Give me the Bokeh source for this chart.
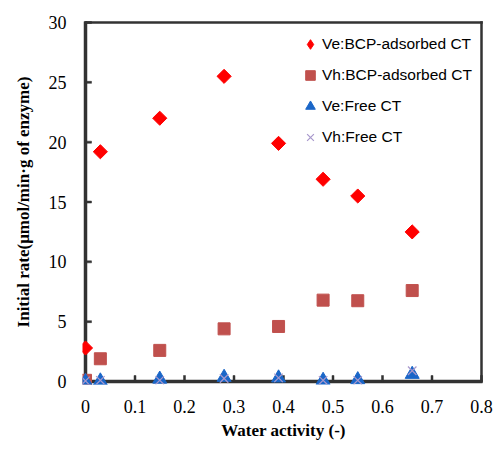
import math
from bokeh.plotting import figure
from bokeh.models import Range1d, FixedTicker, NumeralTickFormatter, Legend, LegendItem
from bokeh.embed import file_html
from bokeh.resources import INLINE

# data
aw = [0.0, 0.03, 0.15, 0.28, 0.39, 0.48, 0.55, 0.66]
ve_bcp = [2.8, 19.2, 22.0, 25.5, 19.9, 16.9, 15.5, 12.5]
vh_bcp = [0.1, 1.9, 2.6, 4.4, 4.6, 6.8, 6.75, 7.6]
ve_free = [0.0, 0.05, 0.2, 0.35, 0.3, 0.1, 0.15, 0.6]
vh_free = [0.05, 0.1, 0.1, 0.25, 0.3, 0.1, 0.1, 0.9]
x_ticks = [0, 0.1, 0.2, 0.3, 0.4, 0.5, 0.6, 0.7, 0.8]
y_ticks = [0, 5, 10, 15, 20, 25, 30]
labels = ["Ve:BCP-adsorbed CT", "Vh:BCP-adsorbed CT", "Ve:Free CT", "Vh:Free CT"]

x_lo, x_hi = 0.0, 0.8
y_lo, y_hi = 0.0, 30.0
# frame geometry (pixels) used to keep the drawn axis box unclipped
frame_w, frame_h, pad = 396, 359, 3
px_x = (x_hi - x_lo) / frame_w
px_y = (y_hi - y_lo) / frame_h
tick_px = 6

p = figure(width=496, height=452, output_backend="svg", toolbar_location=None,
           x_range=Range1d(x_lo - pad * px_x, x_hi + pad * px_x),
           y_range=Range1d(y_lo - pad * px_y, y_hi + pad * px_y),
           min_border_left=82, min_border_right=12, min_border_top=19, min_border_bottom=68)
p.background_fill_color = "white"
p.border_fill_color = "white"
p.xgrid.visible = False
p.ygrid.visible = False
p.outline_line_color = None

serif = "Liberation Serif"
for ax in (p.xaxis[0], p.yaxis[0]):
    ax.axis_line_color = None
    ax.major_tick_line_color = None
    ax.minor_tick_line_color = None
    ax.major_tick_in = 0
    ax.major_tick_out = 0
    ax.major_label_text_font = serif
    ax.major_label_text_font_size = "18px"
    ax.major_label_text_color = "black"
    ax.axis_label_text_font = serif
    ax.axis_label_text_font_style = "bold"
    ax.axis_label_text_font_size = "17px"
    ax.axis_label_text_color = "black"

p.xaxis.ticker = FixedTicker(ticks=x_ticks)
p.xaxis.formatter = NumeralTickFormatter(format="0.[0]")
p.yaxis.ticker = FixedTicker(ticks=y_ticks)
p.xaxis.major_label_standoff = 15
p.xaxis.axis_label_standoff = 5
p.yaxis.major_label_standoff = 16
p.yaxis.axis_label_standoff = 13
p.xaxis.axis_label = "Water activity (-)"
p.yaxis.axis_label = "Initial rate(μmol/min·g of enzyme)"

frame_color = "#333333"
# axis box as thin filled bars: left & bottom 3px, top & right 2px
p.quad(left=[x_lo - 1.5 * px_x, x_lo - 1.5 * px_x, x_lo, x_hi - 1 * px_x],
       right=[x_lo + 1.5 * px_x, x_hi + 1 * px_x, x_hi + 1 * px_x, x_hi + 1 * px_x],
       bottom=[y_lo - 1.5 * px_y, y_lo - 1.5 * px_y, y_hi - 1 * px_y, y_lo],
       top=[y_hi + 1 * px_y, y_lo + 1.5 * px_y, y_hi + 1 * px_y, y_hi + 1 * px_y],
       fill_color=frame_color, line_color=frame_color, line_width=0.5)
# inward tick marks, 2px wide
p.quad(left=[t - px_x for t in x_ticks], right=[t + px_x for t in x_ticks],
       bottom=[y_lo] * len(x_ticks), top=[y_lo + tick_px * px_y] * len(x_ticks),
       fill_color=frame_color, line_color=frame_color, line_width=0.5)
p.quad(left=[x_lo] * len(y_ticks), right=[x_lo + tick_px * px_x] * len(y_ticks),
       bottom=[t - px_y for t in y_ticks], top=[t + px_y for t in y_ticks],
       fill_color=frame_color, line_color=frame_color, line_width=0.5)

r2 = p.scatter(aw, vh_bcp, marker="square", size=12,
               fill_color="#C0504D", line_color="#C0504D")
r4 = p.scatter(aw, ve_free, marker="triangle", size=14,
               fill_color="#1A66C8", line_color="#1A66C8")
r3 = p.scatter(aw, vh_free, marker="x", size=12, line_color="#A898CC", line_width=1.2)
r1 = p.scatter(aw, ve_bcp, marker="square", angle=math.pi / 4, size=10,
               fill_color="#FF0000", line_color="#FF0000")
# legend stand-in for the rotated squares (not drawn itself)
r1_leg = p.scatter(aw, ve_bcp, marker="diamond", size=10,
                   fill_color="#FF0000", line_color="#FF0000", visible=False)

legend = Legend(items=[LegendItem(label=labels[0], renderers=[r1_leg]),
                       LegendItem(label=labels[1], renderers=[r2]),
                       LegendItem(label=labels[2], renderers=[r4]),
                       LegendItem(label=labels[3], renderers=[r3])],
                location=(216, 235), padding=0, margin=0, spacing=7,
                glyph_width=24, glyph_height=24, label_height=24, label_standoff=0,
                label_text_font="Liberation Sans", label_text_font_size="15.5px",
                label_text_color="black",
                border_line_color=None, background_fill_alpha=0)
p.add_layout(legend, "center")

open("out.html", "w").write(file_html(p, INLINE))
